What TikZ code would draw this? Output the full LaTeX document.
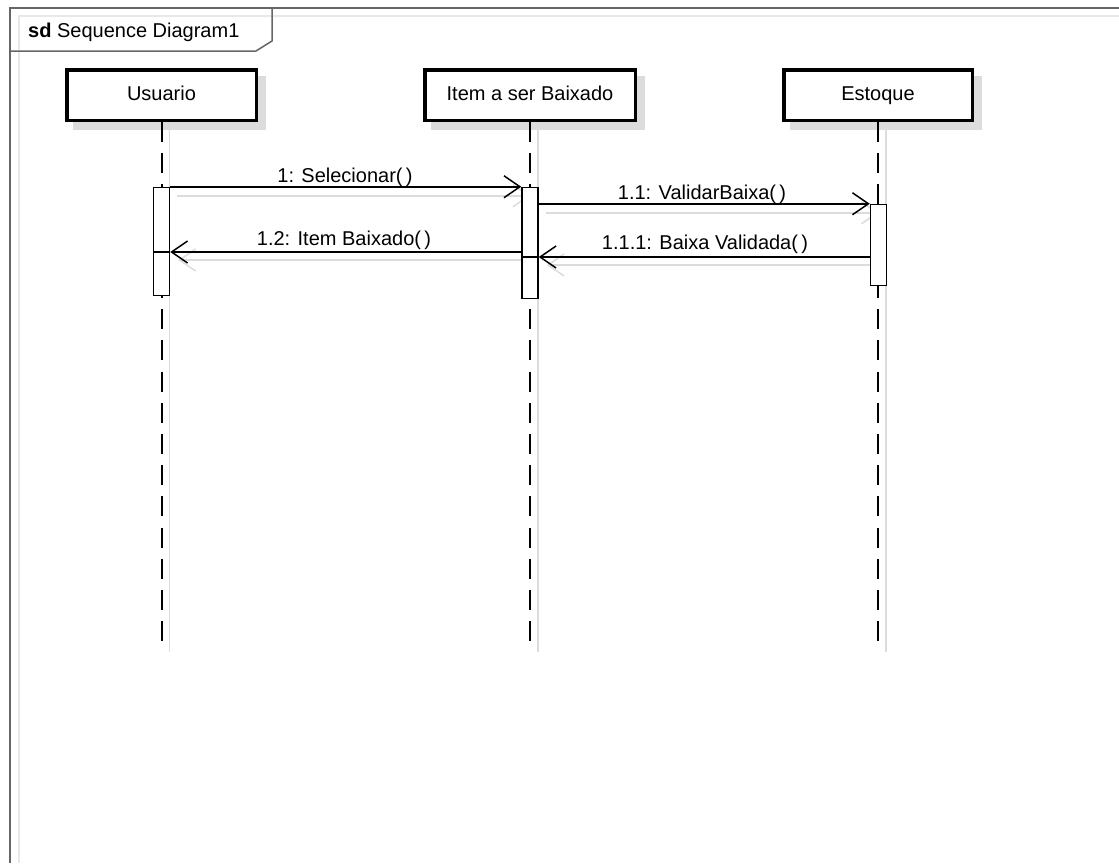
\documentclass[tikz,border=0pt]{standalone}
\usepackage{fontspec}
\setmainfont{Liberation Sans}
\usetikzlibrary{arrows.meta,backgrounds}
\pgfdeclarelayer{bottom}
\pgfsetlayers{bottom,background,main}
\definecolor{framegray}{HTML}{666666}
\definecolor{shadowgray}{HTML}{DCDCDC}
\definecolor{fshadow}{HTML}{E8E8E8}
\begin{document}
\begin{tikzpicture}[x=1pt,y=-1pt,
  lbl/.style={font=\fontsize{20}{24}\selectfont, inner sep=0pt},
  lifebox/.style={draw=black, line width=3.5pt, fill=white, minimum height=50.5pt, inner sep=0pt, text height=14.5pt, text depth=4pt, font=\fontsize{20}{24}\selectfont},
  lifeline/.style={line width=2pt, dash pattern=on 20pt off 11.2pt},
  lifeshadow/.style={line width=1.5pt, draw=shadowgray},
  actbar/.style={draw=black, line width=1.5pt, fill=white, minimum width=16pt, inner sep=0pt},
  msg/.style={line width=1.5pt, -{Straight Barb[length=16pt, width=22pt, line width=1.5pt]}},
  msgshadow/.style={line width=1.5pt, draw=shadowgray, -{Straight Barb[length=16pt, width=22pt, line width=1.5pt]}},
]
\useasboundingbox (0,0) rectangle (1119,863);
\begin{pgfonlayer}{bottom}
\fill[white] (0,0) rectangle (1119,863);
\end{pgfonlayer}

% frame
\draw[fshadow, line width=2pt] (19,863) -- (19,16) -- (1119,16);
\draw[framegray, line width=2.5pt] (10,863) -- (10,8) -- (1119,8);
\draw[framegray, line width=1.5pt] (10,51) -- (256,51) -- (272,41) -- (272,8);
\node[lbl, anchor=base west] (title) at (28,37) {\textbf{sd} Sequence Diagram1};

% lifeline heads
\node[lifebox, minimum width=189.5pt] (U) at (161.5,95) {Usuario};
\node[lifebox, minimum width=210.5pt] (I) at (530,95) {Item a ser Baixado};
\node[lifebox, minimum width=188.5pt] (E) at (878,95) {Estoque};

% activation bars
\node[actbar, minimum height=108pt] (aU) at (161.5,241.5) {};
\node[actbar, minimum height=111pt] (aI) at (530,243) {};
\node[actbar, minimum height=81pt] (aE) at (878.5,245) {};

% lifeline ends
\coordinate (Uend) at (161.5,643);
\coordinate (Iend) at (530,643);
\coordinate (Eend) at (878,643);

\begin{pgfonlayer}{background}
  \foreach \n in {U,I,E}{
    \fill[shadowgray] ([shift={(8,8)}]\n.south west) rectangle ([shift={(8,8)}]\n.north east);
    \draw[lifeshadow] ([shift={(8,8)}]\n.south) -- ([shift={(8,9)}]\n end);
  }
  \draw[lifeline] (U.south) -- (Uend);
  \draw[lifeline] (I.south) -- (Iend);
  \draw[lifeline] (E.south) -- (Eend);
\end{pgfonlayer}

% message points
\coordinate (m12s) at (aI.west |- 0,252);
\coordinate (m12e) at (aU.east |- 0,252);
\coordinate (m12w) at (aU.west |- 0,252);
\coordinate (m111s) at (aE.west |- 0,257);
\coordinate (m111e) at (aI.east |- 0,257);
\coordinate (m111w) at (aI.west |- 0,257);
\coordinate (m11s) at (aI.east |- aE.north);

% message shadows
\draw[msgshadow] ([shift={(7,9)}]aU.north east) -- ([shift={(9,9)}]aI.north west);
\draw[msgshadow] ([shift={(7,9)}]m11s) -- ([shift={(9,9)}]aE.north west);
\draw[msgshadow] ([shift={(9,8)}]m111s) -- ([shift={(8,8)}]m111e);
\draw[msgshadow] ([shift={(9,8)}]m12s) -- ([shift={(8,8)}]m12e);

% bars on top of shadows
\node[actbar, minimum height=108pt] at (aU) {};
\node[actbar, minimum height=111pt] at (aI) {};
\node[actbar, minimum height=81pt] at (aE) {};
\draw[line width=1.2pt] (m12w) -- (m12e);
\draw[line width=1.2pt] (m111w) -- (m111e);

% messages
\draw[msg] (aU.north east) -- (aI.north west);
\draw[msg] (m11s) -- (aE.north west);
\draw[msg] (m111s) -- (m111e);
\draw[msg] (m12s) -- (m12e);

% labels
\node[lbl, anchor=base] (l1) at (345,182) {1: Selecionar(\,)};
\node[lbl, anchor=base] (l11) at (702,199) {1.1: ValidarBaixa(\,)};
\node[lbl, anchor=base] (l111) at (705,249) {1.1.1: Baixa Validada(\,)};
\node[lbl, anchor=base] (l12) at (344,245) {1.2: Item Baixado(\,)};
\end{tikzpicture}
\end{document}
